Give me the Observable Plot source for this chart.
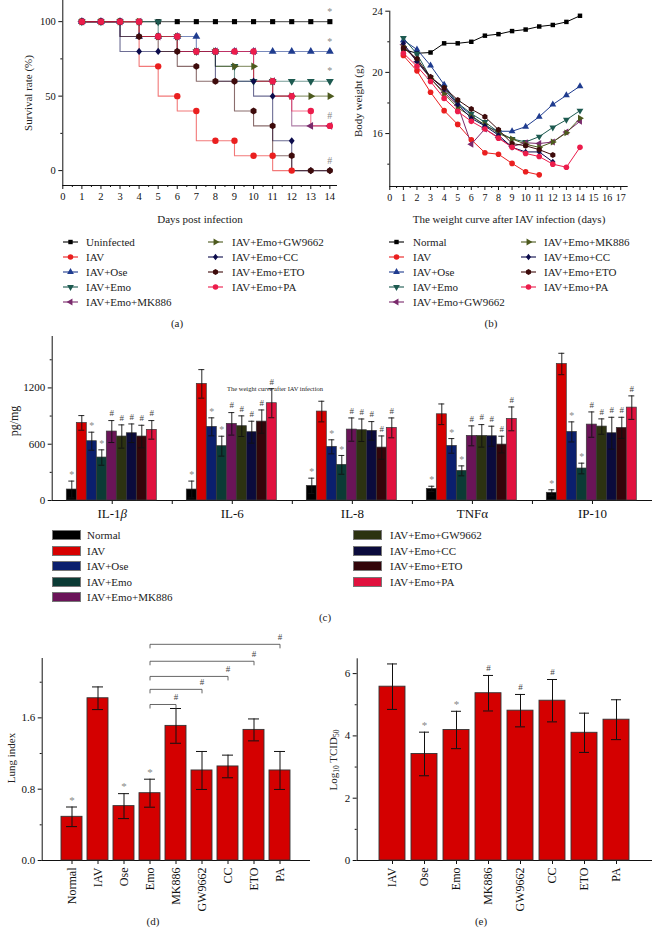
<!DOCTYPE html>
<html>
<head>
<meta charset="utf-8">
<script src="https://cdn.jsdelivr.net/npm/d3@7"></script>
<script src="https://cdn.jsdelivr.net/npm/@observablehq/plot@0.6"></script>
<style>
html,body{margin:0;padding:0;background:#fff;}
#fig{position:relative;width:652px;height:928px;overflow:hidden;font-family:"Liberation Serif","DejaVu Serif",serif;color:#222;}
#fig > svg{position:absolute;left:0;}
.t{position:absolute;white-space:nowrap;font-size:11px;line-height:1;transform:translate(-50%,-50%);}
.t.r{transform:translate(-50%,-50%) rotate(-90deg);}
.lg{position:absolute;white-space:nowrap;font-size:11px;line-height:1;transform:translateY(-50%);}
.sw{position:absolute;width:27px;height:8px;border:1px solid #777;transform:translateY(-50%);}
sub{font-size:7.5px;vertical-align:-2px;}
</style>
</head>
<body>
<div id="fig"></div>
<script>
// ---------------- DATA ----------------
const days = [1,2,3,4,5,6,7,8,9,10,11,12,13,14];

// (a) survival
const survGroups = ["Uninfected","IAV","IAV+Ose","IAV+Emo","IAV+Emo+MK886","IAV+Emo+GW9662","IAV+Emo+CC","IAV+Emo+ETO","IAV+Emo+PA"];
const survUninfected = [100,100,100,100,100,100,100,100,100,100,100,100,100,100];
const survIAV     = [100,100,100,100,70,50,40,20,20,10,10,0];
const survOse     = [100,100,100,90,90,90,90,80,80,80,80,80,80,80];
const survEmo     = [100,100,100,100,100,90,80,80,70,60,60,60,60,60];
const survMK886   = [100,100,100,100,90,90,80,80,80,80,60,50,30,30];
const survGW9662  = [100,100,100,100,90,90,80,80,70,70,60,50,50,50];
const survCC      = [100,100,100,80,80,80,80,80,60,60,50,20,0,0];
const survETO     = [100,100,100,90,90,80,70,60,60,40,30,10,0,0];
const survPA      = [100,100,100,100,90,90,80,80,80,80,60,50,40,30];
const survNoteValues = [100,80,60,30,0];
const survNoteMarks  = ["*","*","*","#","#"];

// (b) body weight
const weightGroups = ["Normal","IAV","IAV+Ose","IAV+Emo","IAV+Emo+GW9662","IAV+Emo+MK886","IAV+Emo+CC","IAV+Emo+ETO","IAV+Emo+PA"];
const wNormal = [21.5,21.25,21.3,21.9,21.9,22.0,22.4,22.5,22.7,22.8,23.0,23.1,23.3,23.7];
const wIAV    = [21.1,20.1,18.7,17.5,16.6,15.6,14.75,14.65,14.05,13.5,13.3];
const wOse    = [22.1,21.5,20.45,19.2,17.95,17.2,16.5,16.15,16.15,16.45,17.1,17.9,18.5,19.1];
const wEmo    = [22.25,21.2,19.65,19.0,18.0,17.3,16.75,16.1,15.65,15.45,15.8,16.4,16.9,17.5];
const wGW9662 = [21.8,20.7,19.6,18.7,17.85,15.3,16.3,15.75,15.15,15.4,15.35,15.45,16.1,16.8];
const wMK886  = [21.7,20.8,19.6,18.6,17.7,17.1,16.6,16.0,15.65,15.3,15.1,15.45,16.05,17.0];
const wCC     = [21.9,20.7,19.7,18.9,17.9,17.0,16.5,15.9,15.1,14.8,14.8,14.15];
const wETO    = [21.6,20.9,19.7,19.0,18.2,17.6,17.1,16.25,15.35,15.2,14.95,14.6];
const wPA     = [21.25,20.4,19.4,18.3,17.45,16.8,16.3,15.7,15.1,14.7,14.5,14.0,13.8,15.1];

// shared line colours (a,b)
const seriesColors = ["#000000","#ea1f1f","#1f3c8f","#1d5a50","#7a2a6c","#4d5a1e","#0c0c4c","#3e0b0b","#ec1c4b"];

// (c) cytokines
const cytokines = ["IL-1β","IL-6","IL-8","TNFα","IP-10"];
const groupsC = ["Normal","IAV","IAV+Ose","IAV+Emo","IAV+Emo+MK886","IAV+Emo+GW9662","IAV+Emo+CC","IAV+Emo+ETO","IAV+Emo+PA"];
const colorsC = ["#000000","#d60000","#0b1f6e","#0b3b35","#6a1458","#2c3211","#0b0b3c","#33050a","#e0113e"];
const cNormal = [117,117,156,124,82];     const eNormal = [90,90,82,28,32];
const cIAV    = [827,1243,948,919,1455];  const eIAV    = [78,152,110,110,114];
const cOse    = [632,785,572,582,731];    const eOse    = [96,96,75,78,107];
const cEmo    = [458,579,380,316,341];    const eEmo    = [82,106,100,53,57];
const cMK886  = [735,817,756,689,809];    const eMK886  = [117,120,124,106,135];
const cGW9662 = [682,792,749,689,788];    const eGW9662 = [124,110,120,120,82];
const cCC     = [717,728,742,685,717];    const eCC     = [99,117,99,107,170];
const cETO    = [682,841,564,596,774];    const eETO    = [120,124,124,89,113];
const cPA     = [753,1037,774,870,990];   const ePA     = [99,155,106,127,125];
const cMarks  = ["*","","*","*","#","#","#","#","#"];

// (d) lung index
const lungGroups = ["Normal","IAV","Ose","Emo","MK886","GW9662","CC","ETO","PA"];
const lungIndex  = [0.49,1.82,0.61,0.755,1.51,1.01,1.055,1.465,1.01];
const lungErr    = [0.11,0.127,0.14,0.157,0.195,0.213,0.127,0.123,0.213];
const lungMarks  = ["*","","*","*","","","","",""];
const bracketFrom  = "Emo";
const bracketTo    = ["MK886","GW9662","CC","ETO","PA"];
const bracketLevel = [1.75,1.92,2.065,2.235,2.425];

// (e) TCID50
const tcidGroups = ["IAV","Ose","Emo","MK886","GW9662","CC","ETO","PA"];
const tcidValues = [5.58,3.42,4.19,5.37,4.81,5.13,4.1,4.52];
const tcidErr    = [0.73,0.7,0.6,0.57,0.52,0.68,0.63,0.64];
const tcidMarks  = ["","*","*","#","#","#","",""];

// ---------------- HELPERS ----------------
const FONT = '"Liberation Serif","DejaVu Serif",serif';
const fig = document.getElementById("fig");
const baseStyle = {fontFamily: FONT, fontSize: "10.5px", color: "#111", background: "transparent", overflow: "visible"};
function put(svg, top) { svg.style.top = top + "px"; svg.style.left = "0px"; svg.style.position = "absolute"; fig.appendChild(svg); }
function label(html, x, y, rot, size) {
  const d = document.createElement("div");
  d.className = "t" + (rot ? " r" : "");
  d.style.left = x + "px"; d.style.top = y + "px";
  if (size) d.style.fontSize = size + "px";
  d.innerHTML = html; fig.appendChild(d);
}
function poly(pts) { return {draw(c, s) { const k = Math.sqrt(s); pts.forEach(([x, y], i) => i ? c.lineTo(x * k, y * k) : c.moveTo(x * k, y * k)); c.closePath(); }}; }
const symSquare = poly([[-0.45,-0.45],[0.45,-0.45],[0.45,0.45],[-0.45,0.45]]);
const symUp     = poly([[0,-0.8],[0.69,0.4],[-0.69,0.4]]);
const symDown   = poly([[0,0.8],[0.69,-0.4],[-0.69,-0.4]]);
const symLeft   = poly([[-0.8,0],[0.4,-0.69],[0.4,0.69]]);
const symRight  = poly([[0.8,0],[-0.4,-0.69],[-0.4,0.69]]);
const symDia    = poly([[0,-0.64],[0.52,0],[0,0.64],[-0.52,0]]);
const symHex    = poly(d3.range(6).map(k => [0.6 * Math.cos(Math.PI / 6 + k * Math.PI / 3), 0.6 * Math.sin(Math.PI / 6 + k * Math.PI / 3)]));
const symCircle = d3.symbolCircle;
const seriesSymbols = [symSquare, symCircle, symUp, symDown, symLeft, symRight, symDia, symHex, symCircle];

function lineLegend(names, x0, textX, rowsY, startIdx, colors, syms) {
  names.forEach((n, j) => {
    const i = startIdx + j, y = rowsY[j];
    const s = d3.create("svg").attr("width", 16).attr("height", 12)
      .style("position", "absolute").style("left", x0 + "px").style("top", (y - 6) + "px");
    s.append("line").attr("x1", 0).attr("x2", 15).attr("y1", 6).attr("y2", 6).attr("stroke", colors[i]).attr("stroke-width", 1.1);
    s.append("path").attr("d", d3.symbol(syms[i], 24)()).attr("transform", "translate(7.5,6)").attr("fill", colors[i]);
    fig.appendChild(s.node());
    const t = document.createElement("div"); t.className = "lg";
    t.style.left = textX + "px"; t.style.top = y + "px"; t.textContent = n; fig.appendChild(t);
  });
}
const legendRows = [242, 257, 272, 287, 302];

// ---------------- (a) SURVIVAL ----------------
const survSeries = [survUninfected, survIAV, survOse, survEmo, survMK886, survGW9662, survCC, survETO, survPA];
const survRows = survGroups.flatMap((g, i) => survSeries[i].map((v, j) => ({group: g, day: days[j], value: v})));
const survNotes = survNoteValues.map((v, i) => ({day: 14, value: v, note: survNoteMarks[i]}));
put(Plot.plot({
  width: 652, height: 212, marginLeft: 62.3, marginRight: 315, marginTop: 0, marginBottom: 27,
  style: baseStyle,
  x: {domain: [0, 14.4], axis: null},
  y: {domain: [-10, 114.2], axis: null},
  color: {domain: survGroups, range: seriesColors},
  symbol: {domain: survGroups, range: seriesSymbols},
  marks: [
    Plot.ruleX([0], {stroke: "#111"}),
    Plot.ruleY([-10], {stroke: "#111"}),
    Plot.axisX({ticks: d3.range(0, 15), tickSize: 4, tickPadding: 3, label: null, fontSize: 10.5}),
    Plot.axisX({ticks: d3.range(0.5, 14.5, 1), tickSize: 2, tickFormat: () => "", label: null}),
    Plot.axisY({ticks: [0, 50, 100], tickSize: 4, tickPadding: 3, label: null, fontSize: 10.5}),
    Plot.axisY({ticks: [25, 75], tickSize: 2, tickFormat: () => "", label: null}),
    Plot.line(survRows, {x: "day", y: "value", z: "group", stroke: "group", curve: "step-before", strokeWidth: 1.1, strokeOpacity: 0.6}),
    Plot.dot(survRows, {x: "day", y: "value", fill: "group", symbol: "group", r: 3.2}),
    Plot.text(survNotes, {x: "day", y: "value", text: "note", dy: -10, fill: "#888", fontSize: 10})
  ]
}), 0);

// ---------------- (b) BODY WEIGHT ----------------
const weightSeries = [wNormal, wIAV, wOse, wEmo, wGW9662, wMK886, wCC, wETO, wPA];
const weightRows = weightGroups.flatMap((g, i) => weightSeries[i].map((v, j) => ({group: g, day: days[j], value: v})));
put(Plot.plot({
  width: 652, height: 212, marginLeft: 389.3, marginRight: 24.3, marginTop: 10.7, marginBottom: 26,
  style: baseStyle,
  x: {domain: [0, 17.55], axis: null},
  y: {domain: [12.54, 24], axis: null},
  color: {domain: weightGroups, range: seriesColors},
  symbol: {domain: weightGroups, range: seriesSymbols},
  marks: [
    Plot.ruleX([0], {stroke: "#111"}),
    Plot.ruleY([12.54], {stroke: "#111"}),
    Plot.axisX({ticks: d3.range(0, 18), tickSize: 4, tickPadding: 3, label: null, fontSize: 10}),
    Plot.axisX({ticks: d3.range(0.5, 17.5, 1), tickSize: 2, tickFormat: () => "", label: null}),
    Plot.axisY({ticks: [16, 20, 24], tickSize: 4, tickPadding: 3, label: null, fontSize: 10.5}),
    Plot.axisY({ticks: [14, 18, 22], tickSize: 2, tickFormat: () => "", label: null}),
    Plot.line(weightRows, {x: "day", y: "value", z: "group", stroke: "group", strokeWidth: 1}),
    Plot.dot(weightRows, {x: "day", y: "value", fill: "group", symbol: "group", r: 2.8})
  ]
}), 0);

label("Survival rate (%)", 28, 93, true, 11);
label("Days post infection", 200, 219, false, 11);
label("Body weight (g)", 358, 101, true, 11);
label("The weight curve after IAV infection (days)", 509, 219, false, 11);
lineLegend(survGroups.slice(0, 5), 63, 86, legendRows, 0, seriesColors, seriesSymbols);
lineLegend(survGroups.slice(5), 208, 232, legendRows, 5, seriesColors, seriesSymbols);
lineLegend(weightGroups.slice(0, 5), 389, 413, legendRows, 0, seriesColors, seriesSymbols);
lineLegend(weightGroups.slice(5), 521, 544, legendRows, 5, seriesColors, seriesSymbols);
label("(a)", 177, 323, false, 11);
label("(b)", 491, 323, false, 11);

// ---------------- (c) CYTOKINES ----------------
const cSeries = [cNormal, cIAV, cOse, cEmo, cMK886, cGW9662, cCC, cETO, cPA];
const eSeries = [eNormal, eIAV, eOse, eEmo, eMK886, eGW9662, eCC, eETO, ePA];
const cRows = groupsC.flatMap((g, i) => cytokines.map((c, j) => ({
  group: g, cyt: c, value: cSeries[i][j], lo: cSeries[i][j] - eSeries[i][j], hi: cSeries[i][j] + eSeries[i][j], mark: cMarks[i]
})));
const cTop = 1748;
const axesC = Plot.plot({
  width: 652, height: 200, marginLeft: 51.7, marginRight: 0, marginTop: 10, marginBottom: 26,
  style: baseStyle,
  x: {domain: [0, 5], axis: null},
  y: {domain: [0, cTop], axis: null},
  marks: [
    Plot.ruleX([0], {stroke: "#111"}),
    Plot.ruleY([0], {stroke: "#111"}),
    Plot.axisY({ticks: [0, 600, 1200], tickFormat: d3.format("d"), tickSize: 4, tickPadding: 3, label: null, fontSize: 11}),
    Plot.axisY({ticks: [300, 900, 1500], tickSize: 2, tickFormat: () => "", label: null}),
    Plot.axisX({ticks: d3.range(0.5, 5, 1), tickSize: 4, tickPadding: 4, tickFormat: d => cytokines[Math.floor(d)], label: null, fontSize: 13}),
    Plot.axisX({ticks: [1, 2, 3, 4], tickSize: 4, tickFormat: () => "", label: null})
  ]
});
d3.select(axesC).selectAll("text").each(function () {
  if (this.textContent === "IL-1β") {
    const t = d3.select(this); t.text("IL-1");
    t.append("tspan").attr("font-style", "italic").text("β");
  }
});
put(axesC, 326);
put(Plot.plot({
  width: 652, height: 200, marginLeft: 51.7, marginRight: 0, marginTop: 10, marginBottom: 26,
  style: baseStyle,
  fx: {domain: cytokines, paddingInner: 0.19, paddingOuter: 0.095, axis: null, label: null},
  x: {domain: groupsC, padding: 0, axis: null},
  y: {domain: [0, cTop], axis: null},
  color: {domain: groupsC, range: colorsC},
  marks: [
    Plot.barY(cRows, {fx: "cyt", x: "group", y: "value", fill: "group", stroke: "#3a3a3a", strokeWidth: 0.7}),
    Plot.ruleX(cRows, {fx: "cyt", x: "group", y1: "lo", y2: "hi", stroke: "#111", strokeWidth: 0.9}),
    Plot.tickY(cRows, {fx: "cyt", x: "group", y: "hi", stroke: "#111", strokeWidth: 0.9, insetLeft: 2, insetRight: 2}),
    Plot.tickY(cRows, {fx: "cyt", x: "group", y: "lo", stroke: "#111", strokeWidth: 0.9, insetLeft: 2, insetRight: 2}),
    Plot.text(cRows, {filter: d => d.mark === "*", fx: "cyt", x: "group", y: "hi", text: "mark", dy: -6, fill: "#888", fontSize: 10}),
    Plot.text(cRows, {filter: d => d.mark === "#", fx: "cyt", x: "group", y: "hi", text: "mark", dy: -7, fill: "#444", fontSize: 9})
  ]
}), 326);
label("pg/mg", 14, 421, true, 12);
label("The weight curve after IAV infection", 275, 389, false, 6.5);

// legend (c)
const cLegRows = [535, 551, 566, 582, 597];
groupsC.forEach((g, i) => {
  const left = i < 5, j = left ? i : i - 5;
  const sw = document.createElement("div"); sw.className = "sw";
  sw.style.left = (left ? 52 : 353) + "px"; sw.style.top = cLegRows[j] + "px"; sw.style.background = colorsC[i];
  fig.appendChild(sw);
  const t = document.createElement("div"); t.className = "lg";
  t.style.left = (left ? 87 : 390) + "px"; t.style.top = cLegRows[j] + "px"; t.textContent = g;
  fig.appendChild(t);
});
label("(c)", 325, 617, false, 11);

// ---------------- (d) LUNG INDEX ----------------
const lungRows = lungGroups.map((g, i) => ({group: g, value: lungIndex[i], lo: lungIndex[i] - lungErr[i], hi: lungIndex[i] + lungErr[i], mark: lungMarks[i]}));
const bracketRows = bracketTo.map((t, i) => ({from: bracketFrom, to: t, level: bracketLevel[i]}));
const tickLen = 0.045;
put(Plot.plot({
  width: 652, height: 328, marginLeft: 41.7, marginRight: 342, marginTop: 58, marginBottom: 68,
  style: baseStyle,
  x: {domain: lungGroups, paddingInner: 0.2, paddingOuter: 0.6, axis: null},
  y: {domain: [0, 2.266], axis: null},
  marks: [
    Plot.frame({anchor: "left", stroke: "#111"}),
    Plot.ruleY([0], {stroke: "#111"}),
    Plot.axisY({ticks: [0, 0.8, 1.6], tickFormat: d3.format(".1f"), tickSize: 4, tickPadding: 3, label: null, fontSize: 11}),
    Plot.axisY({ticks: [0.4, 1.2, 2.0], tickSize: 2, tickFormat: () => "", label: null}),
    Plot.axisX({tickSize: 4, tickPadding: 3, tickRotate: -90, label: null, fontSize: 12}),
    Plot.barY(lungRows, {x: "group", y: "value", fill: "#d40000", stroke: "#333", strokeWidth: 0.9}),
    Plot.ruleX(lungRows, {x: "group", y1: "lo", y2: "hi", stroke: "#111", strokeWidth: 1}),
    Plot.tickY(lungRows, {x: "group", y: "hi", stroke: "#111", strokeWidth: 1, insetLeft: 5, insetRight: 5}),
    Plot.tickY(lungRows, {x: "group", y: "lo", stroke: "#111", strokeWidth: 1, insetLeft: 5, insetRight: 5}),
    Plot.text(lungRows, {filter: d => d.mark, x: "group", y: "hi", text: "mark", dy: -7, fill: "#888", fontSize: 11}),
    Plot.link(bracketRows, {x1: "from", x2: "to", y1: "level", y2: "level", stroke: "#555", strokeWidth: 0.9}),
    Plot.link(bracketRows, {x1: "from", x2: "from", y1: "level", y2: d => d.level - tickLen, stroke: "#555", strokeWidth: 0.9}),
    Plot.link(bracketRows, {x1: "to", x2: "to", y1: "level", y2: d => d.level - tickLen, stroke: "#555", strokeWidth: 0.9}),
    Plot.text(bracketRows, {x: "to", y: "level", text: () => "#", dy: -7, fill: "#444", fontSize: 9})
  ]
}), 600);
label("Lung index", 11, 758, true, 11);
label("(d)", 153, 921, false, 11);

// ---------------- (e) TCID50 ----------------
const tcidRows = tcidGroups.map((g, i) => ({group: g, value: tcidValues[i], lo: tcidValues[i] - tcidErr[i], hi: tcidValues[i] + tcidErr[i], mark: tcidMarks[i]}));
put(Plot.plot({
  width: 652, height: 328, marginLeft: 356.7, marginRight: 0, marginTop: 58.3, marginBottom: 68,
  style: baseStyle,
  x: {domain: tcidGroups, paddingInner: 0.18, paddingOuter: 0.61, axis: null},
  y: {domain: [0, 6.475], axis: null},
  marks: [
    Plot.frame({anchor: "left", stroke: "#111"}),
    Plot.ruleY([0], {stroke: "#111"}),
    Plot.axisY({ticks: [0, 2, 4, 6], tickFormat: d3.format("d"), tickSize: 4, tickPadding: 3, label: null, fontSize: 11}),
    Plot.axisY({ticks: [1, 3, 5], tickSize: 2, tickFormat: () => "", label: null}),
    Plot.axisX({tickSize: 4, tickPadding: 3, tickRotate: -90, label: null, fontSize: 12}),
    Plot.barY(tcidRows, {x: "group", y: "value", fill: "#d40000", stroke: "#333", strokeWidth: 0.9}),
    Plot.ruleX(tcidRows, {x: "group", y1: "lo", y2: "hi", stroke: "#111", strokeWidth: 1}),
    Plot.tickY(tcidRows, {x: "group", y: "hi", stroke: "#111", strokeWidth: 1, insetLeft: 8, insetRight: 8}),
    Plot.tickY(tcidRows, {x: "group", y: "lo", stroke: "#111", strokeWidth: 1, insetLeft: 8, insetRight: 8}),
    Plot.text(tcidRows, {filter: d => d.mark === "*", x: "group", y: "hi", text: "mark", dy: -7, fill: "#888", fontSize: 11}),
    Plot.text(tcidRows, {filter: d => d.mark === "#", x: "group", y: "hi", text: "mark", dy: -7, fill: "#444", fontSize: 9})
  ]
}), 600);
label("Log<sub>10</sub> TCID<sub>50</sub>", 334, 760, true, 11);
label("(e)", 481, 921, false, 11);
</script>
</body>
</html>
